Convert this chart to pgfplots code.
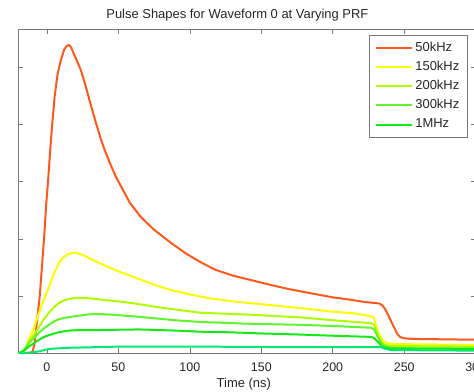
\documentclass[border=0pt]{standalone}
\usepackage{pgfplots}
\pgfplotsset{compat=1.18}
\usepackage{fontspec}
\setmainfont{Liberation Sans}
\definecolor{c50}{RGB}{255,88,28}
\definecolor{c150}{RGB}{252,252,0}
\definecolor{c200}{RGB}{175,252,0}
\definecolor{c300}{RGB}{95,245,45}
\definecolor{c1M}{RGB}{20,235,20}
\definecolor{cmint}{RGB}{0,232,110}
\definecolor{axgray}{RGB}{120,120,120}
\begin{document}
\begin{tikzpicture}
\begin{axis}[
  at={(0,0)}, anchor=south west,
  scale only axis, width=457.4bp, height=324bp,
  xmin=-20, xmax=300, ymin=0, ymax=5.654,
  xtick={0,50,100,150,200,250,300},
  ytick={0,1,2,3,4,5}, yticklabels={},
  tick align=inside, major tick length=5bp,
  xtick pos=both, ytick pos=both,
  axis line style={axgray, line width=0.8bp},
  tick style={axgray, line width=0.6bp},
  /pgf/number format/assume math mode=true,
  ticklabel style={font=\fontsize{12.5}{14}\selectfont, text=black!85},
  xticklabel style={anchor=center, yshift=-13.5bp},
  xlabel={Time (ns)},
  xlabel style={at={(axis description cs:0.493,0)}, anchor=center, yshift=-30.5bp, font=\fontsize{13}{15}\selectfont, text=black!85},
  title={Pulse Shapes for Waveform 0 at Varying PRF},
  every axis title/.style={at={(axis description cs:0.479,1)}, anchor=center, yshift=14.5bp, font=\fontsize{13}{15}\selectfont, text=black!85},
  legend image code/.code={\draw[#1] (0bp,0bp) -- (36bp,0bp);},
  legend cell align=left,
  legend style={at={(axis description cs:0.7667,0.983)}, anchor=north west,
    draw=axgray, line width=0.8bp, inner xsep=6bp, inner ysep=3.2bp,
    font=\fontsize{13}{15}\selectfont, text=black!85,
    nodes={inner xsep=2bp, inner ysep=3.3bp, text height=9.5bp, text depth=3bp}},
  every axis plot/.append style={line width=2bp, line join=round},
]
\addplot[c50] coordinates {
(-20,0) (-12,0.01) (-10,0.03) (-8.5,0.2) (-7,0.55) (-5,1.0) (-3.5,1.5) (-2,2.0)
(-0.5,2.6) (0.8,3.0) (2.2,3.5) (3.7,4.0) (5.5,4.5) (7.5,4.88) (9.8,5.12) (12,5.3)
(14,5.37) (15.5,5.385) (17,5.34) (19,5.22) (21.7,5.07) (23.8,4.94) (27,4.68)
(30,4.4) (34,4.05) (37.8,3.74) (40,3.58) (44.8,3.28) (48,3.1) (51.8,2.92) (58,2.63)
(65.8,2.38) (75,2.16) (86.8,1.93) (97,1.75) (107.7,1.59) (118,1.46) (130,1.36)
(143,1.28) (156,1.2) (170,1.12) (185,1.05) (200,0.98) (212,0.94) (222,0.90)
(230,0.88) (233,0.87) (235,0.83) (237,0.76) (239,0.66) (242,0.5) (245,0.35)
(247,0.29) (250,0.265) (255,0.255) (270,0.25) (300,0.24)
};
\addlegendentry{50kHz}
\addplot[c150] coordinates {
(-20,0) (-17,0.03) (-15,0.1) (-12.6,0.24) (-9,0.45) (-5.6,0.71) (-2,0.95)
(1.4,1.16) (5,1.4) (8.4,1.58) (12,1.69) (15.4,1.74) (20,1.76) (25,1.72)
(30,1.66) (36.4,1.58) (44.8,1.49) (50.4,1.43) (58,1.36) (64.4,1.3) (72.8,1.22)
(85,1.12) (100,1.03) (115,0.96) (130,0.91) (150,0.86) (178,0.79) (200,0.73)
(215,0.7) (226.7,0.65) (228.8,0.62) (231.6,0.38) (235,0.22) (238,0.18)
(242,0.165) (260,0.16) (300,0.15)
};
\addlegendentry{150kHz}
\addplot[c200] coordinates {
(-20,0) (-16,0.05) (-12.6,0.2) (-9,0.33) (-5.6,0.46) (-2,0.6) (1.4,0.71)
(5,0.81) (8.4,0.88) (12,0.93) (15.4,0.95) (20,0.97) (27,0.97) (35,0.95)
(41.3,0.93) (50,0.91) (59.5,0.88) (80,0.8) (107.7,0.71) (140,0.68)
(177.7,0.63) (200,0.58) (226.7,0.53) (229,0.5) (232.3,0.28) (235.8,0.15)
(240,0.13) (300,0.12)
};
\addlegendentry{200kHz}
\addplot[c300] coordinates {
(-20,0) (-16,0.06) (-12.6,0.18) (-9,0.27) (-5.6,0.36) (-2,0.44) (1.4,0.5)
(5,0.56) (8.4,0.6) (14,0.63) (20,0.65) (28,0.68) (36.4,0.69) (50,0.67)
(64.4,0.64) (90,0.58) (107.7,0.55) (140,0.52) (177.7,0.5) (200,0.48)
(226.7,0.45) (229,0.42) (233.7,0.18) (238,0.11) (245,0.09) (300,0.09)
};
\addlegendentry{300kHz}
\addplot[c1M] coordinates {
(-20,0) (-16,0.05) (-12.6,0.12) (-9,0.18) (-5.6,0.24) (-2,0.29) (1.4,0.32)
(8,0.37) (15.4,0.4) (25,0.41) (36.4,0.41) (64.4,0.42) (90,0.4) (107.7,0.38)
(128,0.37) (150,0.35) (177.7,0.33) (200,0.31) (226.7,0.29) (229,0.27)
(235,0.11) (240,0.09) (300,0.08)
};
\addlegendentry{1MHz}
\addplot[cmint, forget plot] coordinates {
(-20,0) (-10,0.02) (-5,0.04) (1.4,0.08) (15.4,0.1) (50,0.12) (107.7,0.12)
(177.7,0.11) (233.7,0.11) (237,0.08) (240.7,0.06) (300,0.05)
};
\end{axis}
\pgfresetboundingbox
\useasboundingbox (-18.3bp,-38.5bp) rectangle (455.7bp,353.5bp);
\end{tikzpicture}
\end{document}
